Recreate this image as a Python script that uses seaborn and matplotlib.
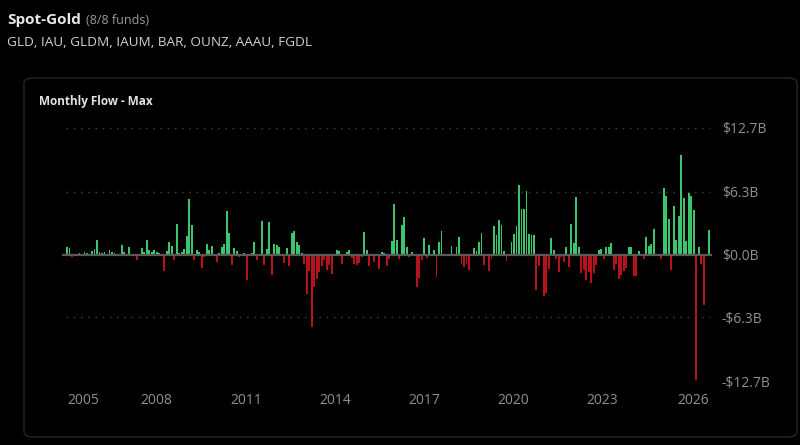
import matplotlib
matplotlib.use("Agg")
import matplotlib.pyplot as plt
from matplotlib.patches import FancyBboxPatch
import numpy as np
import pandas as pd
import seaborn as sns

# ---------------- data (monthly net flow, $B) ----------------
flows = [
    0.8, 0.7, -0.3, 0.05, 0.1, 0.2, 0.1, 0.3, 0.2, 0.1,
    0.4, 0.6, 1.5, 0.3, 0.2, 0.3, -0.2, 0.5, 0.3, 0.2,
    0.1, 0.05, 1.0, 0.3, 0.05, 0.8, 0.05, 0.1, -0.6, 0.1,
    0.7, 0.3, 1.5, 0.5, 0.3, 0.5, 0.3, 0.2, 0.1, -1.7,
    0.4, 1.3, 0.9, -0.6, 3.1, 0.2, 0.3, 0.6, 1.9, 5.6,
    3.0, -0.6, 0.5, 0.3, -1.4, -0.3, 1.1, 0.5, 0.9, 0.1,
    -0.8, 0.2, 0.8, 1.1, 4.4, 2.2, -1.1, 0.7, 0.4, -0.3,
    0.1, 0.2, -2.6, -0.2, 0.2, 1.3, -0.6, 0.1, 3.4, -1.1,
    0.6, 3.3, -2.1, 1.1, 1.0, 0.8, 0.1, -0.9, 0.7, -1.2,
    2.2, 2.4, 1.3, 1.0, 0.2, -1.0, -4.0, -1.7, -7.3, -3.3,
    -2.5, -1.8, -1.2, -0.6, -1.6, -1.1, -2.0, -0.1, 0.5, 0.4,
    -1.0, 0.05, 0.3, 0.5, -0.4, -1.0, -1.1, -0.9, -0.3, 2.3,
    0.5, -1.2, 0.1, -0.8, 0.05, -1.5, 0.3, 0.2, -1.2, -0.5,
    1.4, 5.1, 1.5, -0.5, 3.0, 3.8, 0.8, -0.3, 0.3, 0.05,
    -3.3, -2.4, -0.6, 1.7, -0.4, 1.0, -0.2, 0.5, -2.3, 1.3,
    2.4, -0.2, 0.05, 0.05, 0.9, -0.2, 0.8, 1.8, -1.0, -1.3,
    -1.0, -1.6, -0.1, 0.7, 0.4, 1.3, 2.2, -1.1, 0.1, -1.7,
    -0.5, 2.9, 2.0, 3.5, 3.0, 0.4, -0.7, 0.05, 1.3, 2.1,
    2.9, 7.0, 4.6, 4.6, 6.4, 2.1, 2.0, 2.0, -3.6, -1.2,
    0.05, -4.2, -3.9, -1.5, 1.7, 0.5, -0.5, -1.8, -0.3, -0.8,
    0.8, -1.3, 3.1, 1.2, 5.8, 0.8, -1.9, -1.6, -2.6, -1.8,
    -2.9, -1.9, -1.1, 0.5, 0.6, -0.5, 0.8, 0.8, 1.2, -1.6,
    -1.0, -2.5, -2.1, -1.7, -1.4, 0.8, 0.8, -2.2, -2.2, 0.4,
    0.05, -0.5, 1.8, 0.9, 1.1, 2.6, 0.1, -0.2, -0.5, 6.7,
    5.9, 3.6, -1.6, 4.9, 1.5, 3.9, 10.0, 5.7, 1.4, 6.2,
    5.9, 4.5, -12.6, 0.8, -1.0, -5.1, 0.05, 2.5,
]
year_labels = ["2005", "2008", "2011", "2014", "2017", "2020", "2023", "2026"]
year_ticks = [0, 35.8, 71.8, 107.4, 143.0, 178.8, 214.4, 250.6]
y_values = [12.7, 6.3, 0.0, -6.3, -12.7]
y_labels = ["$12.7B", "$6.3B", "$0.0B", "-$6.3B", "-$12.7B"]

fund_title = "Spot-Gold"
fund_count = "(8/8 funds)"
tickers = "GLD, IAU, GLDM, IAUM, BAR, OUNZ, AAAU, FGDL"
card_title = "Monthly Flow - Max"

# ---------------- style ----------------
sns.set_style("dark")
plt.rcParams["font.family"] = ["Open Sans", "DejaVu Sans"]

BG = "#000000"
CARD = "#000000"
GREEN = "#3cc46e"
RED = "#b5121b"
GRID = "#3a3a3a"
TXT = "#8c9097"

df = pd.DataFrame({"idx": np.arange(len(flows)), "flow": flows})
df["dir"] = np.where(df["flow"] >= 0, "in", "out")

W, H = 800, 445
fig = plt.figure(figsize=(W / 100, H / 100), dpi=100, facecolor=BG)

# card
card = FancyBboxPatch((24 / W, 1 - 437 / H), (797 - 24) / W, (437 - 78) / H,
                      boxstyle="round,pad=0,rounding_size=0.012",
                      transform=fig.transFigure, facecolor=CARD,
                      edgecolor="#262626", linewidth=1.0, zorder=-5)
fig.patches.append(card)

# header texts
fig.text(7 / W, 1 - 20 / H, fund_title, color="#e6e6e6", fontsize=11,
         fontweight="bold", va="center", ha="left")
fig.text(86 / W, 1 - 20.5 / H, fund_count, color="#9a9a9a", fontsize=9,
         va="center", ha="left")
fig.text(7 / W, 1 - 43 / H, tickers, color="#d2d2d2", fontsize=9.7,
         va="center", ha="left")
fig.text(39 / W, 1 - 101 / H, card_title, color="#e2e2e2", fontsize=8.5,
         fontweight="bold", va="center", ha="left")

# plot axes
x0, x1 = 62, 712
y_top, y_bot = 128, 381
ax = fig.add_axes([x0 / W, 1 - y_bot / H, (x1 - x0) / W, (y_bot - y_top) / H])
ax.set_facecolor("none")
ax.set_zorder(2)

sns.barplot(data=df, x="idx", y="flow", hue="dir",
            palette={"in": GREEN, "out": RED}, dodge=False,
            native_scale=True, width=0.75, legend=False, ax=ax,
            saturation=1, zorder=3, linewidth=0, edgecolor="none")

spacing = 2.497
ax.set_xlim((x0 - 67) / spacing, (x1 - 67) / spacing)
ax.set_ylim(-12.7, 12.7)

ax.set_yticks(y_values)
ax.set_yticklabels(y_labels)
ax.yaxis.tick_right()
ax.set_xticks(year_ticks)
ax.set_xticklabels(year_labels)
for lab in ax.get_xticklabels():
    lab.set_ha("center")
ax.get_xticklabels()[0].set_ha("left")

ax.tick_params(axis="both", length=0, colors=TXT, labelsize=10)
ax.tick_params(axis="y", pad=7)
ax.tick_params(axis="x", pad=9)
ax.set_xlabel("")
ax.set_ylabel("")

ax.grid(False)
for v in y_values:
    if v != 0:
        ax.axhline(v, color=GRID, linestyle=(0, (1.2, 4)), linewidth=1.0,
                   zorder=1, xmin=4 / 650, xmax=648 / 650)
ax.axhline(0, color="#5a5a5a", linewidth=1.6, zorder=4)
for s in ax.spines.values():
    s.set_visible(False)

fig.savefig("out.png", dpi=100, facecolor=BG)
